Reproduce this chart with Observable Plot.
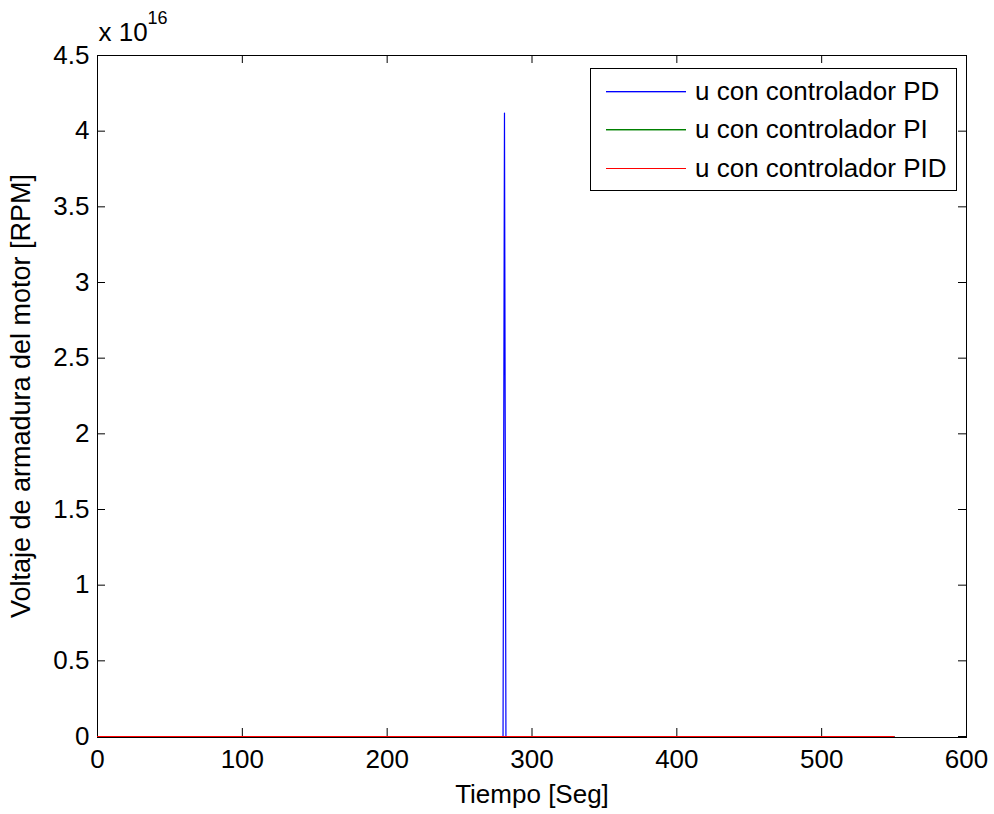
<!DOCTYPE html>
<html>
<head>
<meta charset="utf-8">
<script src="https://cdn.jsdelivr.net/npm/d3@7"></script>
<script src="https://cdn.jsdelivr.net/npm/@observablehq/plot@0.6"></script>
<style>
  html, body { margin: 0; padding: 0; background: #fff; }
  #wrap { position: relative; width: 994px; height: 814px; font-family: "Liberation Sans", Arial, sans-serif; }
  #legend { position: absolute; left: 590px; top: 68px; width: 367px; height: 123px; border: 1px solid #000; background: #fff; box-sizing: border-box; }
  .row { position: absolute; left: 15px; height: 30px; display: flex; align-items: center; font-size: 26px; color: #000; white-space: nowrap; }
  .sw { display: block; width: 80px; height: 1px; margin-right: 9px; flex: none; }
</style>
</head>
<body>
<div id="wrap"></div>
<script>
// ---- data ----
const seriesNames = ["u con controlador PD", "u con controlador PI", "u con controlador PID"];
const seriesColors = ["#0000ff", "#008000", "#ff0000"];
const swatchShade = ["rgba(0,0,255,0.35)", "rgba(0,128,0,0.45)", "none"];
const pdTime = [0, 280, 281, 282, 550];
const pdValue = [0, 0, 4.12e16, 0, 0];
const piTime = [0, 550];
const piValue = [0, 0];
const pidTime = [0, 550];
const pidValue = [0, 0];
const xTicks = [0, 100, 200, 300, 400, 500, 600];
const yTicks = [0, 0.5, 1, 1.5, 2, 2.5, 3, 3.5, 4, 4.5];
const yExp = 1e16;

const toRows = (t, v) => t.map((x, i) => ({t: x, u: v[i]}));
const pd = toRows(pdTime, pdValue);
const pi = toRows(piTime, piValue);
const pid = toRows(pidTime, pidValue);
const yTickVals = yTicks.map(v => v * yExp);

const W = 994, H = 814, mL = 97, mR = 28, mT = 55, mB = 78;
const pw = W - mL - mR, ph = H - mT - mB, tl = 8;
const FS = 26;

const chart = Plot.plot({
  width: W, height: H,
  marginLeft: mL, marginRight: mR, marginTop: mT, marginBottom: mB,
  style: {fontFamily: '"Liberation Sans", Arial, sans-serif', fontSize: FS + "px", color: "#000", background: "#fff"},
  x: {domain: [0, 600], ticks: xTicks},
  y: {domain: [0, 4.5e16], ticks: yTickVals},
  marks: [
    Plot.frame({stroke: "#000", insetBottom: -1}),
    Plot.tickX(xTicks, {x: d => d, stroke: "#000", insetTop: ph - tl}),
    Plot.tickX(xTicks, {x: d => d, stroke: "#000", insetBottom: ph - tl}),
    Plot.tickY(yTickVals, {y: d => d, stroke: "#000", insetRight: pw - tl}),
    Plot.tickY(yTickVals, {y: d => d, stroke: "#000", insetLeft: pw - tl}),
    Plot.line(pd, {x: "t", y: "u", stroke: seriesColors[0], strokeWidth: 1.2}),
    Plot.line(pi, {x: "t", y: "u", stroke: seriesColors[1], strokeWidth: 1}),
    Plot.line(pid, {x: "t", y: "u", stroke: seriesColors[2], strokeWidth: 1}),
    Plot.axisX(xTicks, {tickSize: 0, tickPadding: 13, label: null, fontSize: FS}),
    Plot.axisY(yTickVals, {tickSize: 0, tickPadding: 8, label: null, fontSize: FS,
      tickFormat: d => String(Math.round(d / 1e15) / 10)}),
    Plot.text(["Tiempo [Seg]"], {frameAnchor: "bottom", textAnchor: "middle", dy: 66, lineAnchor: "bottom", fontSize: FS}),
    Plot.text(["Voltaje de armadura del motor [RPM]"], {frameAnchor: "left", textAnchor: "middle", rotate: -90, dx: -68, lineAnchor: "bottom", fontSize: 27}),
    Plot.text(["x 10"], {frameAnchor: "top-left", dx: 1, dy: -15, textAnchor: "start", lineAnchor: "bottom", fontSize: FS}),
    Plot.text(["16"], {frameAnchor: "top-left", dx: 50, dy: -32, textAnchor: "start", lineAnchor: "bottom", fontSize: 18})
  ]
});
const wrap = document.getElementById("wrap");
wrap.appendChild(chart);

const legend = document.createElement("div");
legend.id = "legend";
const rowTops = [7, 45, 84];
seriesNames.forEach((name, i) => {
  const row = document.createElement("div");
  row.className = "row";
  row.style.top = rowTops[i] + "px";
  const sw = document.createElement("span");
  sw.className = "sw";
  sw.style.background = seriesColors[i];
  if (swatchShade[i] !== "none") sw.style.boxShadow = "0 1px 0 " + swatchShade[i];
  const tx = document.createElement("span");
  tx.textContent = name;
  row.appendChild(sw);
  row.appendChild(tx);
  legend.appendChild(row);
});
wrap.appendChild(legend);
</script>
</body>
</html>
